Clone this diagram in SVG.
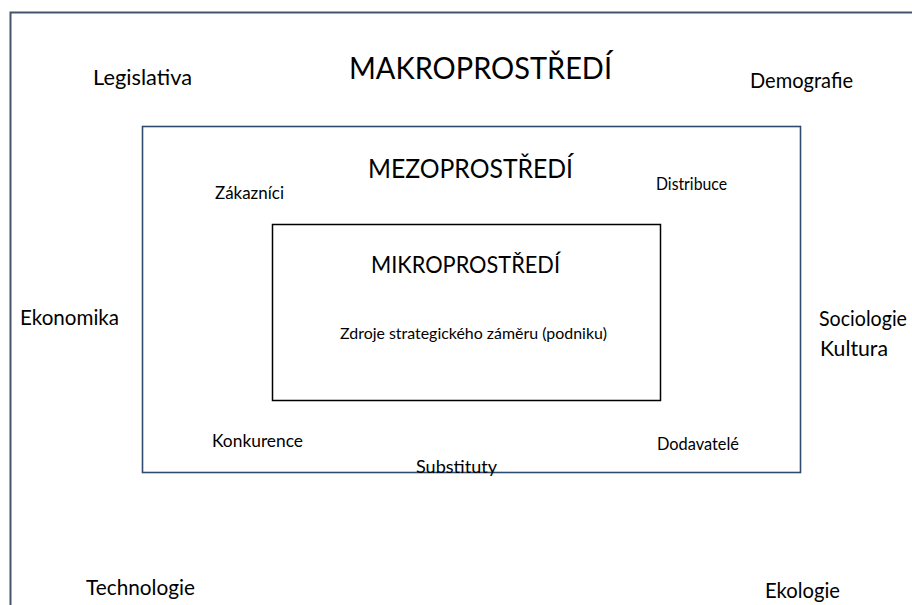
<svg xmlns="http://www.w3.org/2000/svg" width="912" height="605" viewBox="0 0 912 605">
<style>
text{font-family:Lato,"Liberation Sans",sans-serif;fill:#000}
.title{font-size:30px}
.lbl{font-size:22px}
.sm{font-size:17.5px}
.box{fill:none}
</style>
<rect width="912" height="605" fill="#fff"/>
<g id="makro">
<rect class="box" x="10.5" y="12.5" width="1000" height="700" stroke="#44546A" stroke-width="2"/>
<text class="title" x="349" y="79" textLength="263" lengthAdjust="spacingAndGlyphs">MAKROPROSTŘEDÍ</text>
<text class="lbl" x="93" y="85" textLength="99" lengthAdjust="spacingAndGlyphs">Legislativa</text>
<text class="lbl" x="750" y="88" textLength="103" lengthAdjust="spacingAndGlyphs">Demografie</text>
<text class="lbl" x="20" y="325" textLength="99" lengthAdjust="spacingAndGlyphs">Ekonomika</text>
<text class="lbl" style="font-size:20.5px" x="819" y="326" textLength="88" lengthAdjust="spacingAndGlyphs">Sociologie</text>
<text class="lbl" x="820" y="356" textLength="68" lengthAdjust="spacingAndGlyphs">Kultura</text>
<text class="lbl" x="86" y="595" textLength="109" lengthAdjust="spacingAndGlyphs">Technologie</text>
<text class="lbl" x="765" y="598" textLength="75" lengthAdjust="spacingAndGlyphs">Ekologie</text>
</g>
<g id="mezo">
<rect class="box" x="142.5" y="126.5" width="658" height="346" stroke="#2F4B6E" stroke-width="1.6"/>
<text class="title" style="font-size:27.5px" x="368" y="178" textLength="205" lengthAdjust="spacingAndGlyphs">MEZOPROSTŘEDÍ</text>
<text class="sm" x="215" y="199" textLength="69" lengthAdjust="spacingAndGlyphs">Zákazníci</text>
<text class="sm" x="656" y="190" textLength="71" lengthAdjust="spacingAndGlyphs">Distribuce</text>
<text class="sm" x="212" y="447" textLength="91" lengthAdjust="spacingAndGlyphs">Konkurence</text>
<text class="sm" x="416" y="473" textLength="81" lengthAdjust="spacingAndGlyphs">Substituty</text>
<text class="sm" x="657" y="450" textLength="82" lengthAdjust="spacingAndGlyphs">Dodavatelé</text>
</g>
<g id="mikro">
<rect class="box" x="272.5" y="224.5" width="388" height="176" stroke="#000" stroke-width="1.5"/>
<text class="title" style="font-size:24px" x="371" y="273" textLength="189" lengthAdjust="spacingAndGlyphs">MIKROPROSTŘEDÍ</text>
<text class="sm" style="font-size:16px" x="340" y="339" textLength="267" lengthAdjust="spacingAndGlyphs">Zdroje strategického záměru (podniku)</text>
</g>
<g id="connectors"/>
</svg>
